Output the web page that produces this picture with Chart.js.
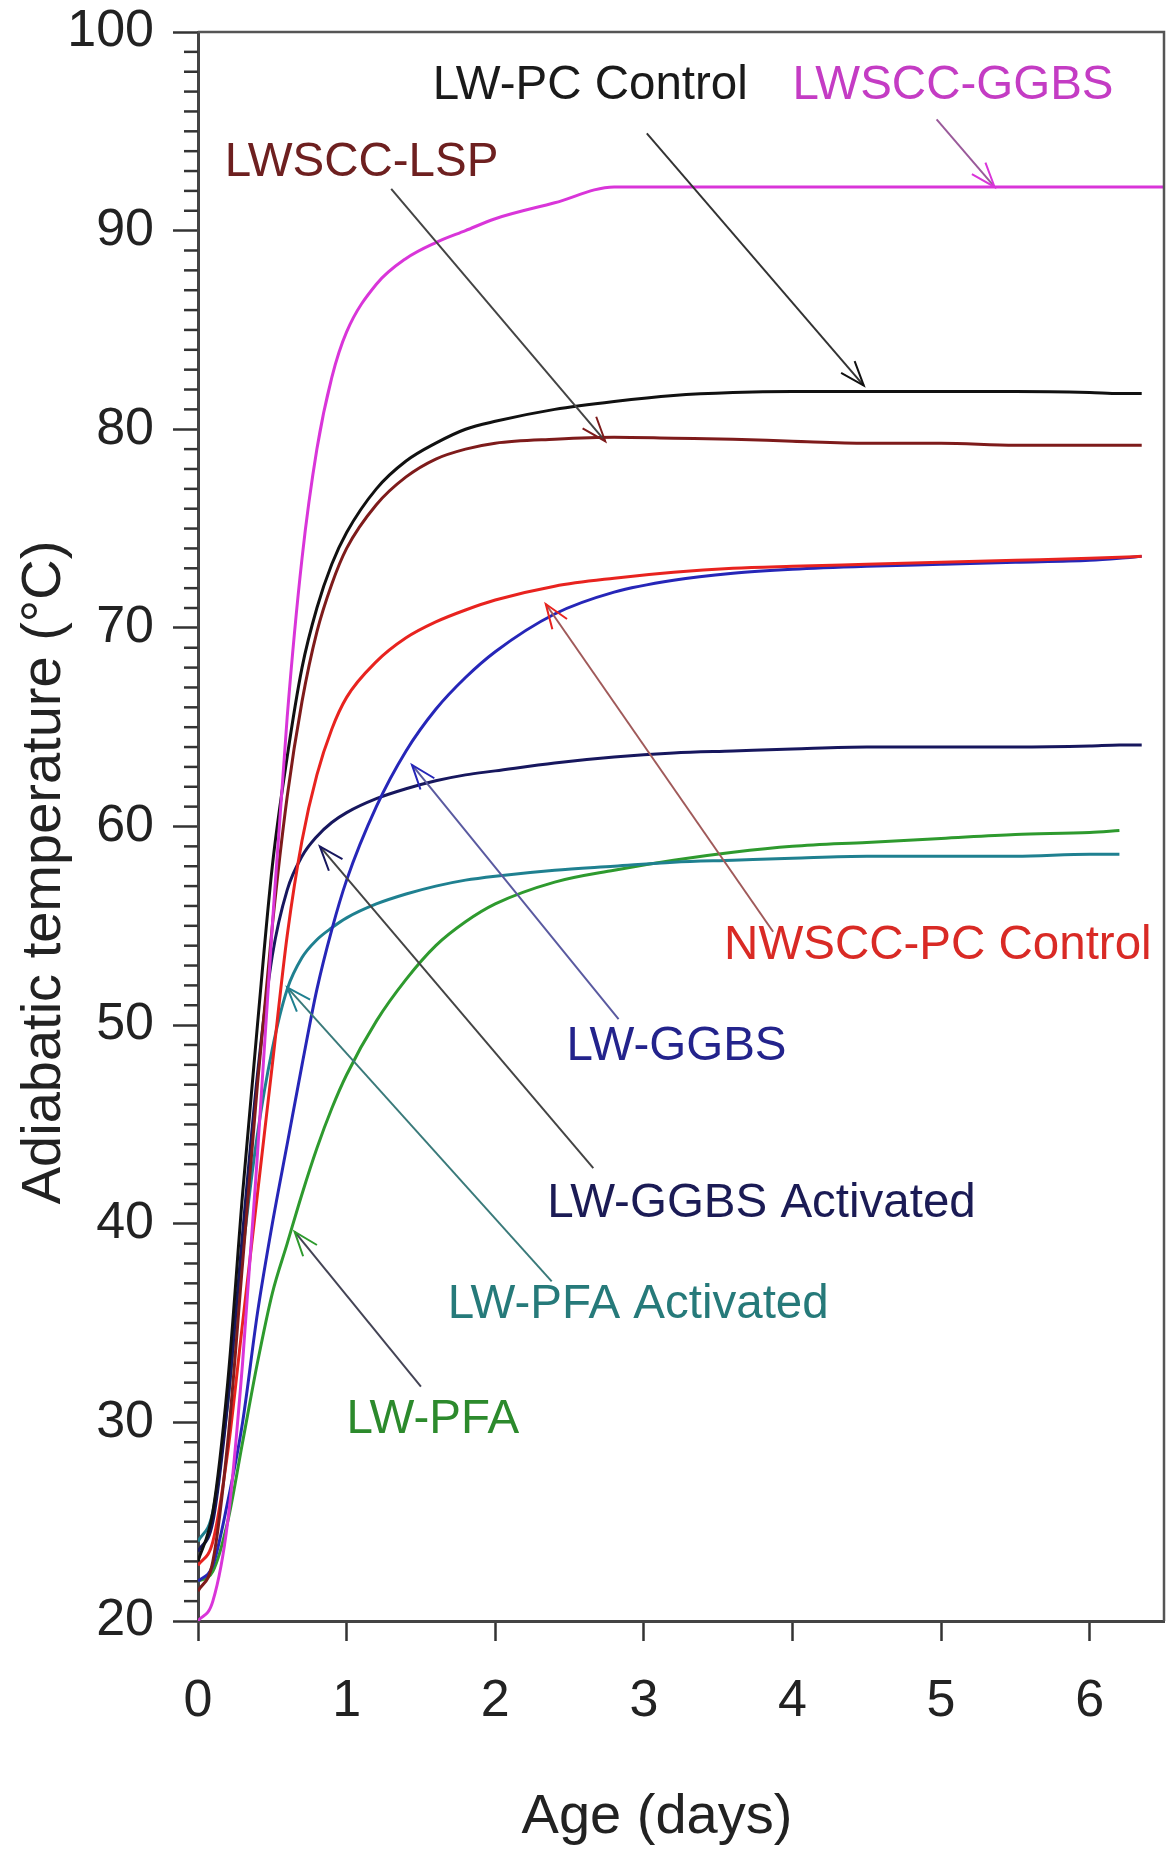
<!DOCTYPE html>
<html>
<head>
<meta charset="utf-8">
<script src="https://cdn.jsdelivr.net/npm/chart.js@4.4.1/dist/chart.umd.min.js"></script>
<style>
  html, body { margin: 0; padding: 0; background: #fff; }
  .wrap { width: 1168px; height: 1860px; position: relative; }
</style>
</head>
<body>
<div class="wrap"><canvas id="myChart"></canvas></div>
<script>
const ctx = document.getElementById('myChart')

// age grid (days)
const ages = [0, 0.1, 0.2, 0.3, 0.4, 0.5, 0.6, 0.7, 0.8, 0.9, 1.0, 1.2, 1.4, 1.6, 1.8, 2.0, 2.4, 2.8, 3.2, 3.6, 4.0, 4.5, 5.0, 5.5, 6.0, 6.2, 6.35, 6.5]

// adiabatic temperature (ºC) at each age
const lwsccGgbs = [20, 21, 25, 33, 43.5, 55, 65.5, 73.5, 79, 82.6, 84.9, 87.3, 88.6, 89.4, 90.0, 90.6, 91.4, 92.2, 92.2, 92.2, 92.2, 92.2, 92.2, 92.2, 92.2, 92.2, 92.2, 92.2]
const lwPcControl = [23, 25.5, 32, 41.5, 50, 58, 63.5, 68, 71, 73.2, 74.8, 77, 78.4, 79.3, 80, 80.4, 81, 81.4, 81.7, 81.85, 81.9, 81.9, 81.9, 81.9, 81.85, 81.8, 81.8, null]
const lwsccLsp = [21.5, 23, 29, 38, 47, 55, 61.5, 66.3, 69.8, 72.2, 74, 76.2, 77.6, 78.5, 79, 79.3, 79.5, 79.6, 79.55, 79.5, 79.4, 79.3, 79.3, 79.2, 79.2, 79.2, 79.2, null]
const nwsccPcControl = [22.8, 24, 28.5, 35, 41.5, 48, 54.5, 59.3, 62.6, 64.9, 66.5, 68.3, 69.5, 70.3, 70.9, 71.4, 72.1, 72.5, 72.8, 73, 73.1, 73.2, 73.3, 73.4, 73.5, 73.55, 73.6, null]
const lwGgbs = [22, 22.8, 26, 30, 35.5, 40, 44, 48, 51.8, 54.8, 57.3, 61, 63.8, 65.9, 67.5, 68.8, 70.7, 71.8, 72.4, 72.75, 72.95, 73.1, 73.2, 73.3, 73.4, 73.5, 73.6, null]
const lwGgbsActivated = [23.5, 25, 31, 39.5, 47.5, 53.5, 56.8, 58.5, 59.5, 60.2, 60.7, 61.4, 61.9, 62.3, 62.6, 62.8, 63.2, 63.5, 63.7, 63.8, 63.9, 64, 64, 64, 64.05, 64.1, 64.1, null]
const lwPfaActivated = [24, 25.5, 31, 38.5, 44.5, 48.8, 51.8, 53.4, 54.3, 54.9, 55.4, 56.1, 56.6, 57, 57.3, 57.5, 57.8, 58, 58.2, 58.3, 58.4, 58.5, 58.5, 58.5, 58.6, 58.6, null, null]
const lwPfa = [22, 22.5, 25, 29, 33, 36.5, 39, 41.5, 43.8, 45.8, 47.5, 50.2, 52.3, 54, 55.2, 56.1, 57.2, 57.8, 58.3, 58.7, 59, 59.2, 59.4, 59.6, 59.7, 59.8, null, null]

const seriesNames = ['LWSCC-GGBS', 'LW-PC Control', 'LWSCC-LSP', 'NWSCC-PC Control', 'LW-GGBS', 'LW-GGBS Activated', 'LW-PFA Activated', 'LW-PFA']
const seriesValues = [lwsccGgbs, lwPcControl, lwsccLsp, nwsccPcControl, lwGgbs, lwGgbsActivated, lwPfaActivated, lwPfa]
const lineColors = ['#d935d9', '#111111', '#7e1b1b', '#e8231f', '#2626b8', '#17175e', '#1f8090', '#2e9a2e']
const textColors = ['#c43cc4', '#1a1a1a', '#6e2020', '#d92a25', '#23238c', '#1b1b55', '#267a7a', '#2c8a2c']

const xTicks = [0, 1, 2, 3, 4, 5, 6]
const yTicks = [20, 30, 40, 50, 60, 70, 80, 90, 100]
const xTitle = 'Age (days)'
const yTitle = 'Adiabatic temperature (°C)'

// label anchor (day, ºC) and arrow from -> to, same order as seriesNames
const notes = [
  { at: [4.0, 97.3], from: [4.97, 95.6], to: [5.36, 92.2], arrow: '#9a5a9a' },
  { at: [1.58, 97.3], from: [3.02, 94.9], to: [4.48, 82.2], arrow: '#333333' },
  { at: [0.18, 93.4], from: [1.30, 92.1], to: [2.74, 79.4], arrow: '#444444' },
  { at: [3.54, 54.0], from: [3.87, 54.7], to: [2.34, 71.2], arrow: '#a05a5a' },
  { at: [2.48, 48.9], from: [2.83, 50.3], to: [1.44, 63.1], arrow: '#5a5aa0' },
  { at: [2.35, 41.0], from: [2.66, 42.8], to: [0.82, 59.0], arrow: '#444444' },
  { at: [1.68, 35.9], from: [2.38, 37.1], to: [0.60, 51.9], arrow: '#3a7a7a' },
  { at: [1.00, 30.1], from: [1.50, 31.8], to: [0.65, 39.6], arrow: '#444455' }
]

const font = 'Liberation Sans, Arial, sans-serif'

const frameAndNotes = {
  id: 'frameAndNotes',
  afterDraw (chart) {
    const c = chart.ctx
    const { left, right, top, bottom } = chart.chartArea
    const xs = chart.scales.x
    const ys = chart.scales.y
    c.save()
    // top and right frame
    c.strokeStyle = '#555'
    c.lineWidth = 2.5
    c.beginPath()
    c.moveTo(left, top)
    c.lineTo(right, top)
    c.lineTo(right, bottom)
    c.stroke()
    // minor ticks on y
    c.strokeStyle = '#333'
    c.lineWidth = 2.5
    for (let v = 21; v < 100; v++) {
      if (v % 10 === 0) continue
      const y = ys.getPixelForValue(v)
      c.beginPath()
      c.moveTo(left - 14, y)
      c.lineTo(left, y)
      c.stroke()
    }
    // axis titles (slightly off-centre, as in the original)
    c.fillStyle = '#222'
    c.font = '56px ' + font
    c.textAlign = 'center'
    c.textBaseline = 'middle'
    c.fillText(xTitle, (left + right) / 2 - 24, 1818)
    c.save()
    c.translate(45, (top + bottom) / 2 + 46)
    c.rotate(-Math.PI / 2)
    c.fillText(yTitle, 0, 0)
    c.restore()
    // labels and arrows
    c.font = '47.5px ' + font
    c.textBaseline = 'middle'
    c.textAlign = 'left'
    notes.forEach((n, i) => {
      c.fillStyle = textColors[i]
      c.fillText(seriesNames[i], xs.getPixelForValue(n.at[0]), ys.getPixelForValue(n.at[1]))
      const x1 = xs.getPixelForValue(n.from[0])
      const y1 = ys.getPixelForValue(n.from[1])
      const x2 = xs.getPixelForValue(n.to[0])
      const y2 = ys.getPixelForValue(n.to[1])
      const ang = Math.atan2(y2 - y1, x2 - x1)
      c.strokeStyle = n.arrow
      c.lineWidth = 2
      c.beginPath()
      c.moveTo(x1, y1)
      c.lineTo(x2, y2)
      c.stroke()
      c.strokeStyle = lineColors[i]
      c.beginPath()
      c.moveTo(x2 - 26 * Math.cos(ang - 0.35), y2 - 26 * Math.sin(ang - 0.35))
      c.lineTo(x2, y2)
      c.lineTo(x2 - 26 * Math.cos(ang + 0.35), y2 - 26 * Math.sin(ang + 0.35))
      c.stroke()
    })
    c.restore()
  }
}

new Chart(ctx, {
  type: 'line',
  data: {
    labels: ages,
    datasets: seriesValues.map((vals, i) => ({
      label: seriesNames[i],
      data: vals.map((v, j) => ({ x: ages[j], y: v })),
      borderColor: lineColors[i],
      borderWidth: 3,
      pointRadius: 0,
      fill: false,
      spanGaps: false,
      cubicInterpolationMode: 'monotone'
    }))
  },
  options: {
    responsive: true,
    maintainAspectRatio: false,
    animation: false,
    events: [],
    layout: { padding: { top: 32, right: 4, left: 0, bottom: 0 } },
    plugins: {
      legend: { display: false },
      tooltip: { enabled: false }
    },
    scales: {
      x: {
        type: 'linear',
        min: 0,
        max: 6.5,
        afterFit (scale) {
          scale.height = 239
          scale.paddingLeft = 0
          scale.paddingRight = 0
        },
        afterBuildTicks (scale) {
          scale.ticks = xTicks.map(v => ({ value: v }))
        },
        ticks: {
          font: { family: font, size: 52 },
          color: '#222',
          padding: 29,
          maxRotation: 0
        },
        grid: {
          drawOnChartArea: false,
          tickLength: 20,
          tickWidth: 2.5,
          tickColor: '#333'
        },
        border: { color: '#444', width: 3 },
        title: { display: false }
      },
      y: {
        min: 20,
        max: 100,
        afterFit (scale) {
          scale.width = 198
          scale.paddingTop = 0
          scale.paddingBottom = 0
        },
        afterBuildTicks (scale) {
          scale.ticks = yTicks.map(v => ({ value: v }))
        },
        ticks: {
          font: { family: font, size: 52 },
          color: '#222',
          padding: 19
        },
        grid: {
          drawOnChartArea: false,
          tickLength: 25,
          tickWidth: 2.5,
          tickColor: '#333'
        },
        border: { color: '#444', width: 3 },
        title: { display: false }
      }
    }
  },
  plugins: [frameAndNotes]
})
</script>
</body>
</html>
